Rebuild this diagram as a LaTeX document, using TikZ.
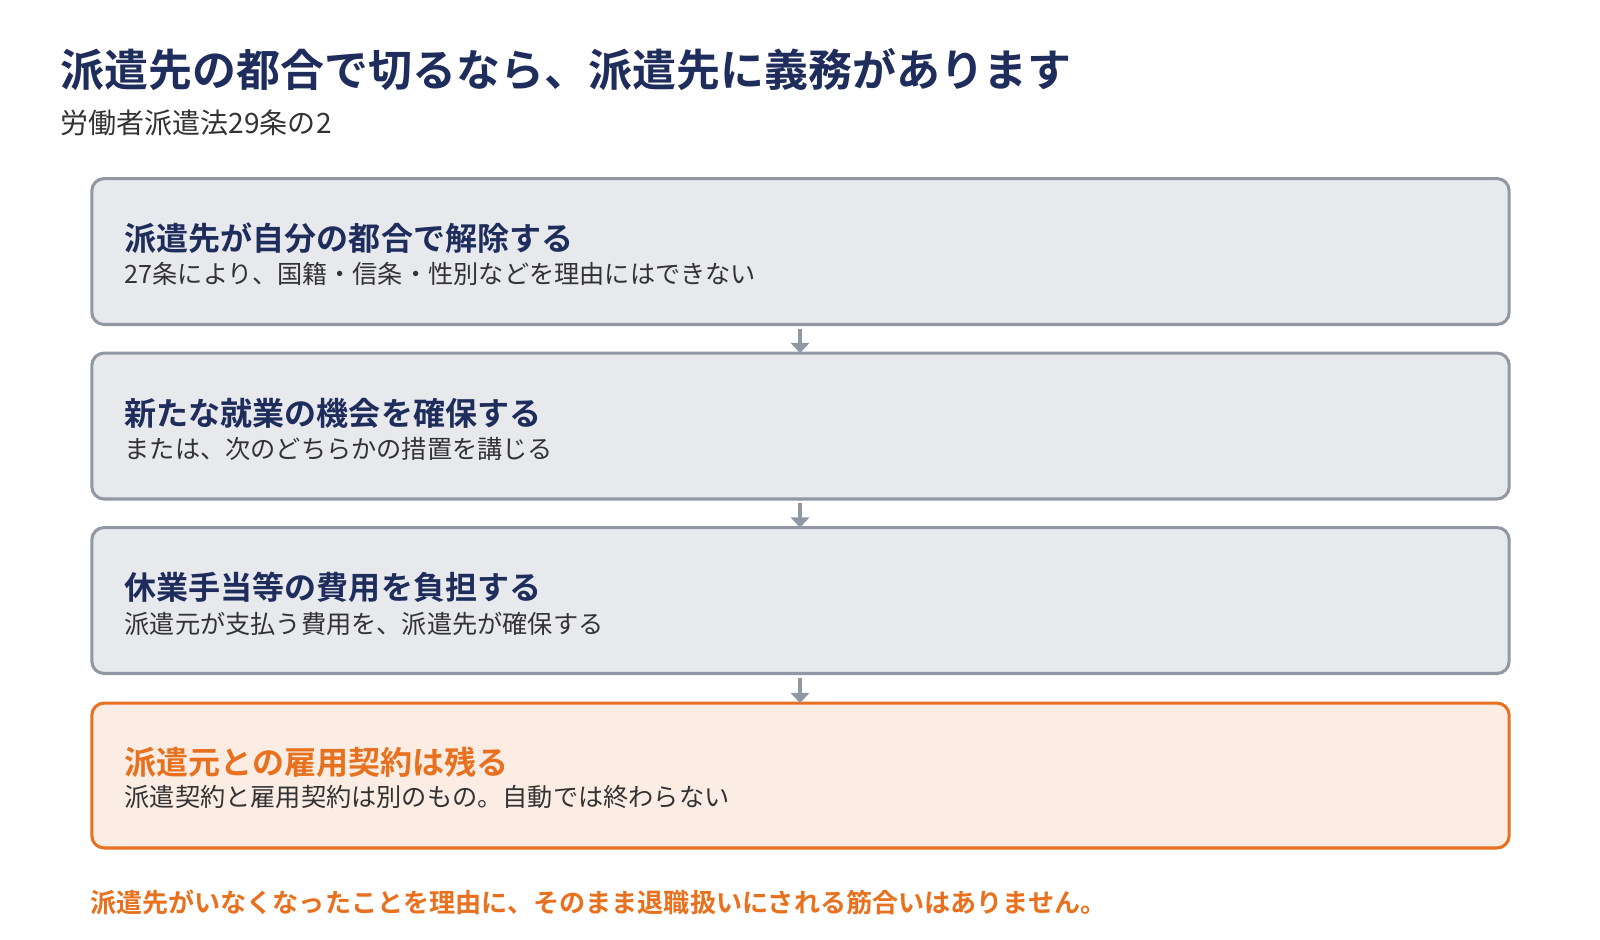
\documentclass[tikz,border=0pt]{standalone}
\usepackage{fontspec}
\setmainfont{Noto Sans CJK JP}
\newfontfamily\jpb{Noto Sans CJK JP Bold}
\newfontfamily\jpr{Noto Sans CJK JP}
\usetikzlibrary{arrows.meta}
\definecolor{navy}{HTML}{1F2D5C}
\definecolor{txtgrey}{HTML}{333333}
\definecolor{bordergrey}{HTML}{9298A3}
\definecolor{fillgrey}{HTML}{E8E9ED}
\definecolor{orng}{HTML}{E8711F}
\definecolor{orngfill}{HTML}{FCEDE4}
\tikzset{
  stepbox/.style={draw=bordergrey, fill=fillgrey, line width=3pt, rounded corners=12pt},
  keybox/.style={draw=orng, fill=orngfill, line width=3pt, rounded corners=12pt},
  boxtitle/.style={anchor=west, inner sep=0pt, text=navy, font=\jpb\fontsize{31.4}{36}\selectfont},
  keytitle/.style={anchor=west, inner sep=0pt, text=orng, font=\jpb\fontsize{31.4}{36}\selectfont},
  boxsub/.style={anchor=west, inner sep=0pt, text=txtgrey, font=\jpr\fontsize{24.7}{30}\selectfont},
  flowarrow/.style={draw=bordergrey, line width=3.5pt, -{Triangle[width=18pt,length=10pt]}}
}
\begin{document}
\begin{tikzpicture}[x=1pt,y=-1pt]
\useasboundingbox (0,0) rectangle (1568,921);
\node[anchor=west, inner sep=0pt, text=navy, font=\jpb\fontsize{43.1}{50}\selectfont] (title) at (59,68) {派遣先の都合で切るなら、派遣先に義務があります};
\node[anchor=west, inner sep=0pt, text=txtgrey, font=\jpr\fontsize{27.5}{32}\selectfont] (subtitle) at (59,120) {労働者派遣法29条の2};

\path[stepbox] (90,175) rectangle (1479,318);
\coordinate (b1bot) at (784,322);
\coordinate (b2top) at (784,346);
\node[boxtitle] (t1) at (122,233) {派遣先が自分の都合で解除する};
\node[boxsub] (s1) at (122,268) {27条により、国籍・信条・性別などを理由にはできない};

\path[stepbox] (90,346) rectangle (1479,489);
\coordinate (b2bot) at (784,493);
\coordinate (b3top) at (784,517);
\node[boxtitle] (t2) at (122,405) {新たな就業の機会を確保する};
\node[boxsub] (s2) at (122,440) {または、次のどちらかの措置を講じる};

\path[stepbox] (90,517) rectangle (1479,660);
\coordinate (b3bot) at (784,664);
\coordinate (b4top) at (784,689);
\node[boxtitle] (t3) at (122,576) {休業手当等の費用を負担する};
\node[boxsub] (s3) at (122,611) {派遣元が支払う費用を、派遣先が確保する};

\path[keybox] (90,689) rectangle (1479,831);
\node[keytitle] (t4) at (122,747) {派遣元との雇用契約は残る};
\node[boxsub] (s4) at (122,781) {派遣契約と雇用契約は別のもの。自動では終わらない};

\draw[flowarrow] (b1bot) -- (b2top);
\draw[flowarrow] (b2bot) -- (b3top);
\draw[flowarrow] (b3bot) -- (b4top);

\node[anchor=west, inner sep=0pt, text=orng, font=\jpb\fontsize{25.6}{30}\selectfont] (note) at (88,884) {派遣先がいなくなったことを理由に、そのまま退職扱いにされる筋合いはありません。};
\end{tikzpicture}
\end{document}
